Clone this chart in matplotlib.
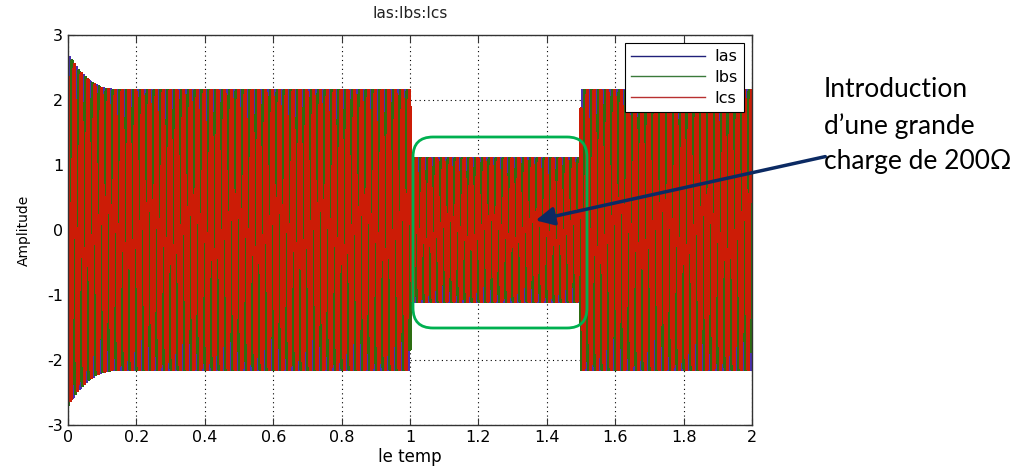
import numpy as np
import matplotlib
matplotlib.use("Agg")
import matplotlib.pyplot as plt
from matplotlib.patches import FancyBboxPatch, FancyArrowPatch
from matplotlib.transforms import IdentityTransform

plt.rcParams["axes.unicode_minus"] = False

# values
freq_hz = 50.0
phase_names = ["Ias", "Ibs", "Ics"]
phase_colors = ["#4a30b0", "#2d6e12", "#cc1c06"]
legend_colors = ["#20207a", "#3a7a3a", "#b83030"]
phase_shift_deg = [0, -120, 120]

# peak current per time segment (load change between 1.0 s and 1.5 s)
seg_start = [0.0, 1.0, 1.5]
seg_end = [1.0, 1.5, 2.0]
seg_peak = [2.15, 1.1, 2.15]

# start-up overshoot of the envelope
start_t = [0.0, 0.02, 0.04, 0.06, 0.08, 0.10, 0.13]
start_extra = [0.55, 0.38, 0.25, 0.15, 0.08, 0.03, 0.0]

x_ticks = [0, 0.2, 0.4, 0.6, 0.8, 1, 1.2, 1.4, 1.6, 1.8, 2]
x_tick_labels = ["0", "0.2", "0.4", "0.6", "0.8", "1", "1.2", "1.4", "1.6", "1.8", "2"]
y_ticks = [-3, -2, -1, 0, 1, 2, 3]

W, H = 1016, 471
fig = plt.figure(figsize=(W / 100, H / 100), dpi=100)
ax = fig.add_axes([68 / W, 1 - 425 / H, (752 - 68) / W, (425 - 35) / H])

t = np.linspace(0, 2, 40001)
peak = np.zeros_like(t)
for s, e, p in zip(seg_start, seg_end, seg_peak):
    peak[(t >= s) & (t <= e)] = p
peak = peak + np.interp(t, start_t, start_extra)

for name, col, ph in zip(phase_names, phase_colors, phase_shift_deg):
    y = peak * np.sin(2 * np.pi * freq_hz * t + np.radians(ph))
    ax.plot(t, y, color=col, lw=1.5, antialiased=False)

# legend handles with the thin legend colours
for name, col in zip(phase_names, legend_colors):
    ax.plot([], [], color=col, lw=1.0, label=name)

ax.set_xlim(0, 2)
ax.set_ylim(-3, 3)
ax.set_xticks(x_ticks)
ax.set_xticklabels(x_tick_labels)
ax.set_yticks(y_ticks)
ax.tick_params(direction="in", top=True, right=True, labelsize=11.5, length=5,
               color="#333333")
ax.grid(True, linestyle=(0, (1, 3)), color="black", linewidth=0.8)
ax.set_axisbelow(True)
ax.set_title("Ias:Ibs:Ics", fontsize=11, pad=12, color="#222222")
ax.set_xlabel("le temp", fontsize=12, labelpad=2)
ax.set_ylabel("Amplitude", fontsize=10, labelpad=12)
for sp in ax.spines.values():
    sp.set_linewidth(1.0)
    sp.set_color("#333333")

leg = ax.legend(loc="upper right", fontsize=11.5, frameon=True, fancybox=False,
                edgecolor="black", handlelength=4.6, handletextpad=0.6,
                borderaxespad=0.5, framealpha=1, labelspacing=0.35)
leg.get_frame().set_linewidth(0.8)

# annotation drawn in figure pixels (y measured from the top)
def px(x, y):
    return (x, H - y)

box = FancyBboxPatch(px(413, 328), 587 - 413, 328 - 137,
                     boxstyle="round,pad=0,rounding_size=20",
                     transform=IdentityTransform(), fill=False,
                     edgecolor="#00b050", linewidth=2.0)
fig.add_artist(box)

arrow = FancyArrowPatch(px(828, 156), px(533, 221), transform=IdentityTransform(),
                        arrowstyle="-|>,head_length=11,head_width=5.5",
                        color="#0b2a63", linewidth=2.5, mutation_scale=1)
fig.add_artist(arrow)

fig.text(824 / W, 1 - 77 / H, "Introduction\nd\u2019une grande\ncharge de 200\u03a9",
         fontsize=19, family=["Lato", "DejaVu Sans"], va="top",
         ha="left", linespacing=1.52)

fig.savefig("out.png", dpi=100)
